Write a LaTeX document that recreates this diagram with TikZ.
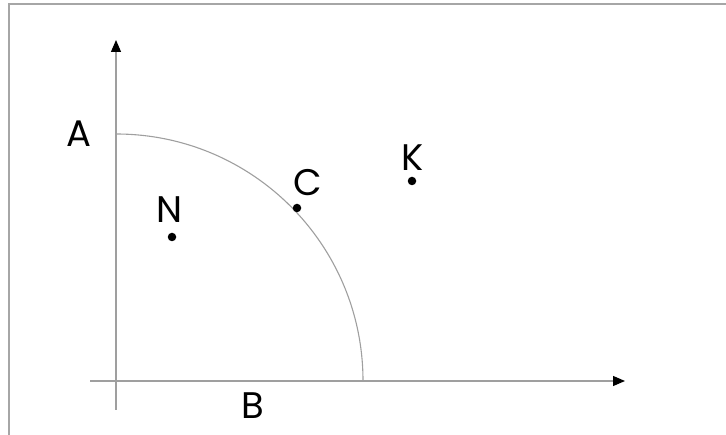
\documentclass[tikz,border=0pt]{standalone}
\usepackage{fontspec}
\setmainfont{Poppins}
\usetikzlibrary{arrows.meta,positioning}

\begin{document}
\begin{tikzpicture}[x=1pt,y=-1pt,
    axisline/.style={gray!75, line width=1.2pt, -{Triangle[black,length=12pt,width=10pt]}},
    dot/.style={circle, fill=black, inner sep=0pt, minimum size=8.5pt},
    lbl/.style={inner sep=0pt, font=\fontsize{37}{42}\selectfont}]
    \useasboundingbox (0,0) rectangle (726,435);

    % Frame
    \draw[gray!70, line width=1.5pt] (9,435) -- (9,4) -- (726,4);

    % Axes
    \coordinate (ybot) at (116,410);
    \coordinate (ytop) at (116,40);
    \coordinate (xlft) at (90,381);
    \coordinate (xrgt) at (625,381);
    \draw[axisline] (ybot) -- (ytop);
    \draw[axisline] (xlft) -- (xrgt);

    % Quarter circle
    \draw[gray!75, line width=1.1pt] (116,134) arc[start angle=-90, end angle=0, radius=247];

    % Points
    \node[dot] (n) at (172,237) {};
    \node[dot] (c) at (297,208) {};
    \node[dot] (k) at (412,181) {};

    % Labels
    \node[lbl] (nlbl) at (170,210) {N};
    \node[lbl] (clbl) at (308,183) {C};
    \node[lbl] (klbl) at (413,158) {K};
    \node[lbl] (albl) at (79,134) {A};
    \node[lbl] (blbl) at (253,406) {B};
\end{tikzpicture}
\end{document}
